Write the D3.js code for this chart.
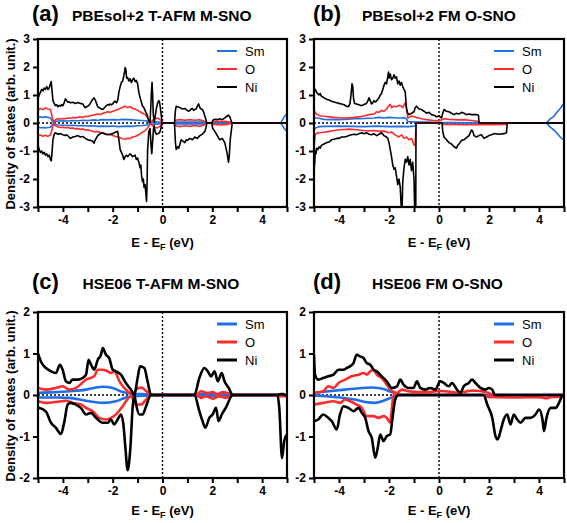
<!DOCTYPE html>
<html><head><meta charset="utf-8">
<script src="https://cdn.jsdelivr.net/npm/d3@7"></script>
<style>body{margin:0;background:#fff}svg{display:block}text{font-family:"Liberation Sans",Arial,Helvetica,sans-serif}</style>
</head><body>
<script>
// ---------- labels ----------
const seriesNames = ["Sm", "O", "Ni"];
const panelLetters = ["(a)", "(b)", "(c)", "(d)"];
const panelTitles = ["PBEsol+2 T-AFM M-SNO", "PBEsol+2 FM O-SNO", "HSE06 T-AFM M-SNO", "HSE06 FM O-SNO"];
const xTicks = [-5,-4,-3,-2,-1,0,1,2,3,4,5];
const xTickLabels = [-4,-2,0,2,4];
const yTicksTop = [-3,-2,-1,0,1,2,3];
const yTicksBottom = [-2,-1,0,1,2];
const yLabel = "Density of states (arb. unit.)";

// ---------- (a) PBEsol+2 T-AFM M-SNO ----------
const aSmUp = [[-5,0],[-4.99,0.2],[-4.9,0.22],[-4.8,0.2],[-4.7,0.22],[-4.6,0.2],[-4.5,0.18],[-4.45,0.1],[-4.38,0.02],[-4.32,0.05],[-4.2,0.07],[-4.0,0.08],[-3.8,0.07],[-3.6,0.09],[-3.4,0.08],[-3.2,0.1],[-3.0,0.09],[-2.8,0.11],[-2.6,0.1],[-2.4,0.12],[-2.2,0.11],[-2.0,0.12],[-1.8,0.11],[-1.6,0.13],[-1.4,0.12],[-1.2,0.11],[-1.0,0.1],[-0.8,0.09],[-0.6,0.07],[-0.5,0.02],[-0.4,0.04],[-0.2,0.04],[-0.02,0],[0.5,0],[0.55,0.03],[1.7,0.03],[1.78,0],[2,0],[2.05,0.02],[2.75,0.02],[2.8,0],[4.76,0],[4.82,0.12],[4.88,0.2],[4.94,0.28],[5,0.32]];
const aSmDn = [[-5,0],[-4.99,-0.15],[-4.9,-0.17],[-4.8,-0.16],[-4.7,-0.18],[-4.6,-0.16],[-4.5,-0.15],[-4.45,-0.08],[-4.38,-0.02],[-4.32,-0.05],[-4.2,-0.07],[-4.0,-0.08],[-3.8,-0.09],[-3.6,-0.08],[-3.4,-0.1],[-3.2,-0.09],[-3.0,-0.11],[-2.8,-0.1],[-2.6,-0.12],[-2.4,-0.11],[-2.2,-0.12],[-2.0,-0.11],[-1.8,-0.13],[-1.6,-0.12],[-1.4,-0.11],[-1.2,-0.12],[-1.0,-0.1],[-0.8,-0.09],[-0.6,-0.07],[-0.5,-0.02],[-0.4,-0.04],[-0.2,-0.04],[-0.02,0],[0.5,0],[0.55,-0.03],[1.7,-0.03],[1.78,0],[2,0],[2.05,-0.02],[2.75,-0.02],[2.8,0],[4.76,0],[4.82,-0.1],[4.88,-0.18],[4.94,-0.25],[5,-0.3]];
const aOUp = [[-5,0],[-4.99,0.45],[-4.95,0.5],[-4.9,0.52],[-4.8,0.48],[-4.7,0.54],[-4.6,0.5],[-4.5,0.48],[-4.45,0.3],[-4.4,0.1],[-4.35,0.05],[-4.3,0.12],[-4.2,0.15],[-4.1,0.14],[-4.0,0.16],[-3.9,0.15],[-3.8,0.18],[-3.7,0.17],[-3.6,0.2],[-3.5,0.18],[-3.4,0.2],[-3.3,0.22],[-3.2,0.2],[-3.1,0.24],[-3.0,0.22],[-2.9,0.26],[-2.8,0.28],[-2.7,0.3],[-2.6,0.32],[-2.5,0.3],[-2.4,0.35],[-2.3,0.37],[-2.2,0.4],[-2.1,0.38],[-2.0,0.42],[-1.9,0.45],[-1.8,0.48],[-1.7,0.52],[-1.6,0.56],[-1.5,0.6],[-1.4,0.55],[-1.3,0.58],[-1.2,0.52],[-1.1,0.5],[-1.0,0.45],[-0.9,0.4],[-0.8,0.35],[-0.7,0.3],[-0.6,0.2],[-0.5,0.05],[-0.45,0.02],[-0.4,0.1],[-0.3,0.15],[-0.2,0.18],[-0.1,0.12],[-0.02,0],[0.48,0],[0.52,0.1],[0.7,0.12],[0.9,0.1],[1.1,0.12],[1.3,0.1],[1.5,0.12],[1.7,0.05],[1.78,0],[1.98,0],[2.05,0.05],[2.3,0.06],[2.6,0.05],[2.8,0],[5,0]];
const aODn = [[-5,0],[-4.99,-0.42],[-4.95,-0.45],[-4.9,-0.43],[-4.8,-0.47],[-4.7,-0.44],[-4.6,-0.48],[-4.5,-0.42],[-4.45,-0.28],[-4.4,-0.1],[-4.35,-0.04],[-4.3,-0.1],[-4.2,-0.14],[-4.1,-0.16],[-4.0,-0.15],[-3.9,-0.17],[-3.8,-0.16],[-3.7,-0.19],[-3.6,-0.18],[-3.5,-0.21],[-3.4,-0.2],[-3.3,-0.23],[-3.2,-0.21],[-3.1,-0.25],[-3.0,-0.24],[-2.9,-0.27],[-2.8,-0.3],[-2.7,-0.32],[-2.6,-0.3],[-2.5,-0.34],[-2.4,-0.37],[-2.3,-0.38],[-2.2,-0.4],[-2.1,-0.42],[-2.0,-0.44],[-1.9,-0.48],[-1.8,-0.5],[-1.7,-0.53],[-1.6,-0.56],[-1.5,-0.58],[-1.4,-0.54],[-1.3,-0.56],[-1.2,-0.5],[-1.1,-0.48],[-1.0,-0.44],[-0.9,-0.38],[-0.8,-0.33],[-0.7,-0.27],[-0.6,-0.18],[-0.5,-0.05],[-0.45,-0.02],[-0.4,-0.1],[-0.3,-0.16],[-0.2,-0.17],[-0.1,-0.12],[-0.02,0],[0.48,0],[0.52,-0.1],[0.7,-0.13],[0.9,-0.1],[1.1,-0.12],[1.3,-0.09],[1.5,-0.12],[1.7,-0.05],[1.78,0],[1.98,0],[2.05,-0.05],[2.3,-0.07],[2.6,-0.05],[2.8,0],[5,0]];
const aNiUp = [[-5,0],[-4.99,0.9],[-4.95,1.0],[-4.9,1.1],[-4.85,1.2],[-4.8,1.15],[-4.75,1.25],[-4.7,1.2],[-4.65,1.3],[-4.6,1.2],[-4.55,1.25],[-4.5,1.4],[-4.47,1.48],[-4.44,1.2],[-4.4,0.8],[-4.35,0.7],[-4.3,0.62],[-4.25,0.65],[-4.2,0.58],[-4.15,0.63],[-4.1,0.6],[-4.05,0.66],[-4.0,0.62],[-3.95,0.72],[-3.9,0.86],[-3.85,0.8],[-3.8,0.74],[-3.75,0.76],[-3.7,0.72],[-3.6,0.74],[-3.5,0.7],[-3.4,0.73],[-3.3,0.7],[-3.2,0.68],[-3.15,0.6],[-3.1,0.55],[-3.05,0.58],[-3.0,0.6],[-2.95,0.64],[-2.9,0.7],[-2.85,0.78],[-2.8,0.85],[-2.75,0.9],[-2.7,0.82],[-2.65,0.7],[-2.6,0.58],[-2.55,0.55],[-2.5,0.52],[-2.45,0.5],[-2.4,0.48],[-2.35,0.53],[-2.3,0.58],[-2.25,0.62],[-2.2,0.66],[-2.15,0.64],[-2.1,0.68],[-2.05,0.65],[-2.0,0.68],[-1.95,0.75],[-1.9,0.78],[-1.85,0.72],[-1.8,0.8],[-1.75,1.1],[-1.7,1.3],[-1.65,1.45],[-1.6,1.5],[-1.55,1.7],[-1.52,1.85],[-1.5,1.98],[-1.47,1.9],[-1.44,1.6],[-1.4,1.62],[-1.35,1.5],[-1.3,1.58],[-1.25,1.45],[-1.2,1.55],[-1.15,1.6],[-1.1,1.48],[-1.05,1.52],[-1.0,1.4],[-0.95,1.1],[-0.9,0.9],[-0.85,0.75],[-0.8,0.6],[-0.75,0.55],[-0.7,0.45],[-0.66,0.37],[-0.62,0.3],[-0.55,0.05],[-0.5,0.02],[-0.47,0.6],[-0.44,1.2],[-0.42,1.45],[-0.4,1.1],[-0.37,0.3],[-0.33,0.03],[-0.3,0.2],[-0.25,0.5],[-0.2,0.7],[-0.15,0.8],[-0.12,0.75],[-0.08,0.5],[-0.04,0.2],[-0.02,0],[0.48,0],[0.52,0.45],[0.55,0.6],[0.6,0.58],[0.7,0.55],[0.8,0.5],[0.9,0.52],[0.95,0.48],[1.0,0.45],[1.05,0.42],[1.1,0.45],[1.15,0.5],[1.2,0.52],[1.25,0.45],[1.3,0.48],[1.35,0.5],[1.4,0.6],[1.45,0.68],[1.5,0.55],[1.55,0.5],[1.6,0.48],[1.65,0.4],[1.7,0.25],[1.75,0.1],[1.78,0],[1.98,0],[2.02,0.1],[2.1,0.13],[2.2,0.12],[2.3,0.15],[2.4,0.12],[2.5,0.18],[2.6,0.25],[2.65,0.28],[2.7,0.22],[2.75,0.1],[2.79,0],[5,0]];
const aNiDn = [[-5,0],[-4.99,-0.82],[-4.95,-0.95],[-4.9,-1.05],[-4.85,-1.0],[-4.8,-1.1],[-4.75,-1.05],[-4.7,-1.15],[-4.65,-1.1],[-4.6,-1.2],[-4.55,-1.15],[-4.5,-1.3],[-4.47,-1.35],[-4.44,-1.1],[-4.4,-0.6],[-4.35,-0.4],[-4.3,-0.35],[-4.2,-0.4],[-4.1,-0.38],[-4.0,-0.42],[-3.9,-0.45],[-3.85,-0.42],[-3.75,-0.5],[-3.7,-0.55],[-3.6,-0.5],[-3.5,-0.48],[-3.4,-0.45],[-3.3,-0.5],[-3.2,-0.48],[-3.1,-0.55],[-3.0,-0.6],[-2.9,-0.62],[-2.8,-0.65],[-2.75,-0.72],[-2.7,-0.6],[-2.6,-0.45],[-2.5,-0.38],[-2.4,-0.35],[-2.3,-0.4],[-2.2,-0.42],[-2.1,-0.4],[-2.0,-0.38],[-1.9,-0.33],[-1.8,-0.3],[-1.75,-0.6],[-1.7,-0.95],[-1.65,-1.05],[-1.6,-1.15],[-1.55,-1.3],[-1.5,-1.2],[-1.45,-1.15],[-1.4,-1.2],[-1.3,-1.1],[-1.2,-1.2],[-1.1,-1.15],[-1.05,-1.3],[-1.0,-1.25],[-0.95,-1.4],[-0.9,-1.6],[-0.87,-1.5],[-0.84,-1.9],[-0.8,-2.1],[-0.77,-2.0],[-0.74,-2.3],[-0.7,-2.2],[-0.67,-2.5],[-0.64,-2.8],[-0.62,-2.2],[-0.6,-1.0],[-0.55,-0.3],[-0.5,-0.2],[-0.46,-0.8],[-0.43,-1.1],[-0.4,-0.7],[-0.36,-0.2],[-0.33,-0.1],[-0.3,-0.3],[-0.25,-0.4],[-0.18,-0.38],[-0.12,-0.35],[-0.08,-0.25],[-0.04,-0.1],[-0.02,0],[0.48,0],[0.52,-0.7],[0.55,-0.94],[0.6,-0.85],[0.65,-0.9],[0.7,-0.75],[0.75,-0.6],[0.82,-0.65],[0.9,-0.7],[0.95,-0.6],[1.0,-0.62],[1.1,-0.55],[1.2,-0.6],[1.3,-0.5],[1.4,-0.55],[1.5,-0.45],[1.6,-0.4],[1.7,-0.3],[1.75,-0.15],[1.78,0],[1.98,0],[2.02,-0.2],[2.1,-0.3],[2.2,-0.45],[2.3,-0.6],[2.4,-0.55],[2.5,-0.7],[2.55,-0.9],[2.6,-1.1],[2.65,-1.4],[2.68,-1.2],[2.72,-0.6],[2.76,-0.3],[2.8,0],[5,0]];

// ---------- (b) PBEsol+2 FM O-SNO ----------
const bSmUp = [[-5,0],[-4.99,0.19],[-4.8,0.17],[-4.6,0.13],[-4.4,0.12],[-4.2,0.13],[-4.0,0.12],[-3.8,0.13],[-3.6,0.14],[-3.4,0.15],[-3.2,0.15],[-3.0,0.16],[-2.8,0.17],[-2.6,0.18],[-2.4,0.2],[-2.2,0.18],[-2.0,0.2],[-1.8,0.19],[-1.6,0.18],[-1.4,0.19],[-1.3,0.15],[-1.25,0.05],[-1.0,0.04],[-0.5,0.03],[0,0.02],[0.5,0.02],[1.6,0.01],[1.62,0],[4.27,0],[4.35,0.05],[4.45,0.15],[4.55,0.2],[4.65,0.3],[4.75,0.42],[4.85,0.52],[4.95,0.65],[5,0.67]];
const bSmDn = [[-5,0],[-4.99,-0.2],[-4.8,-0.13],[-4.5,-0.12],[-4.0,-0.11],[-3.5,-0.12],[-3.0,-0.13],[-2.5,-0.11],[-2.0,-0.13],[-1.5,-0.12],[-1.2,-0.13],[-1.0,-0.11],[-0.93,-0.1],[-0.92,0],[4.27,0],[4.35,-0.05],[4.45,-0.15],[4.55,-0.22],[4.65,-0.3],[4.75,-0.4],[4.85,-0.5],[4.95,-0.58],[5,-0.57]];
const bOUp = [[-5,0],[-4.99,0.43],[-4.9,0.32],[-4.8,0.27],[-4.7,0.25],[-4.6,0.24],[-4.4,0.22],[-4.2,0.2],[-4.0,0.19],[-3.8,0.18],[-3.6,0.19],[-3.4,0.2],[-3.2,0.22],[-3.0,0.25],[-2.8,0.3],[-2.6,0.32],[-2.5,0.4],[-2.4,0.38],[-2.3,0.45],[-2.2,0.42],[-2.1,0.5],[-2.0,0.62],[-1.95,0.67],[-1.9,0.55],[-1.8,0.6],[-1.7,0.58],[-1.6,0.63],[-1.5,0.6],[-1.45,0.55],[-1.4,0.65],[-1.35,0.73],[-1.3,0.55],[-1.25,0.18],[-1.2,0.2],[-1.1,0.25],[-1.0,0.22],[-0.9,0.2],[-0.7,0.15],[-0.5,0.12],[-0.3,0.1],[-0.1,0.08],[0,0.07],[0.2,0.15],[0.4,0.13],[0.6,0.12],[0.8,0.11],[1.0,0.12],[1.2,0.1],[1.4,0.08],[1.6,0.05],[1.62,0],[5,0]];
const bODn = [[-5,0],[-4.99,-0.75],[-4.95,-0.42],[-4.9,-0.37],[-4.8,-0.35],[-4.6,-0.33],[-4.4,-0.3],[-4.2,-0.27],[-4.0,-0.24],[-3.8,-0.23],[-3.6,-0.22],[-3.4,-0.23],[-3.2,-0.25],[-3.0,-0.27],[-2.8,-0.28],[-2.6,-0.27],[-2.4,-0.3],[-2.2,-0.29],[-2.0,-0.35],[-1.9,-0.32],[-1.8,-0.4],[-1.7,-0.45],[-1.6,-0.5],[-1.5,-0.42],[-1.4,-0.55],[-1.3,-0.5],[-1.2,-0.6],[-1.1,-0.55],[-1.0,-0.78],[-0.95,-0.8],[-0.92,0],[0.1,0],[0.15,-0.05],[1.0,-0.06],[2.0,-0.06],[2.7,-0.05],[2.75,0],[5,0]];
const bNiUp = [[-5,0],[-4.99,1.15],[-4.95,1.2],[-4.9,1.1],[-4.85,1.05],[-4.8,1.0],[-4.75,1.05],[-4.7,0.95],[-4.6,0.9],[-4.5,0.85],[-4.4,0.82],[-4.3,0.78],[-4.2,0.75],[-4.1,0.72],[-4.0,0.7],[-3.9,0.68],[-3.8,0.65],[-3.7,0.6],[-3.62,0.58],[-3.56,0.7],[-3.52,1.0],[-3.48,1.4],[-3.45,1.3],[-3.42,0.9],[-3.38,0.7],[-3.3,0.68],[-3.2,0.65],[-3.1,0.62],[-3.0,0.66],[-2.9,0.7],[-2.85,0.78],[-2.8,0.9],[-2.75,0.8],[-2.7,0.68],[-2.65,0.72],[-2.6,0.8],[-2.55,0.75],[-2.5,0.78],[-2.45,0.85],[-2.4,0.9],[-2.35,1.0],[-2.3,1.05],[-2.25,1.2],[-2.2,1.35],[-2.15,1.45],[-2.1,1.4],[-2.05,1.65],[-2.02,1.82],[-2.0,1.6],[-1.95,1.75],[-1.9,1.55],[-1.85,1.6],[-1.8,1.72],[-1.75,1.6],[-1.7,1.65],[-1.65,1.4],[-1.6,1.5],[-1.55,1.35],[-1.5,1.45],[-1.45,1.3],[-1.4,1.2],[-1.35,1.1],[-1.3,0.5],[-1.25,0.35],[-1.2,0.3],[-1.1,0.35],[-1.0,0.4],[-0.95,0.55],[-0.9,0.6],[-0.85,0.55],[-0.8,0.5],[-0.7,0.48],[-0.6,0.42],[-0.5,0.35],[-0.4,0.38],[-0.3,0.3],[-0.2,0.28],[-0.1,0.22],[0,0.25],[0.1,0.18],[0.15,0.35],[0.2,0.48],[0.3,0.42],[0.4,0.4],[0.5,0.35],[0.6,0.3],[0.7,0.35],[0.8,0.32],[0.9,0.38],[1.0,0.35],[1.1,0.3],[1.2,0.32],[1.3,0.3],[1.4,0.3],[1.5,0.3],[1.58,0.28],[1.6,0],[5,0]];
const bNiDn = [[-5,0],[-4.99,-1.6],[-4.97,-1.4],[-4.95,-1.0],[-4.92,-1.1],[-4.9,-0.9],[-4.85,-0.95],[-4.8,-0.85],[-4.75,-0.9],[-4.7,-0.8],[-4.6,-0.75],[-4.5,-0.7],[-4.4,-0.68],[-4.3,-0.6],[-4.2,-0.58],[-4.1,-0.55],[-4.0,-0.55],[-3.9,-0.5],[-3.8,-0.5],[-3.7,-0.48],[-3.6,-0.45],[-3.5,-0.42],[-3.4,-0.4],[-3.3,-0.42],[-3.2,-0.38],[-3.1,-0.35],[-3.0,-0.38],[-2.9,-0.35],[-2.8,-0.4],[-2.7,-0.42],[-2.6,-0.38],[-2.5,-0.45],[-2.4,-0.4],[-2.3,-0.35],[-2.2,-0.45],[-2.1,-0.5],[-2.05,-0.55],[-2.0,-0.7],[-1.95,-0.95],[-1.9,-1.2],[-1.85,-1.5],[-1.8,-1.65],[-1.75,-1.6],[-1.7,-1.9],[-1.65,-2.2],[-1.6,-2.0],[-1.55,-2.3],[-1.5,-3.2],[-1.48,-3.2],[-1.45,-2.1],[-1.4,-1.6],[-1.35,-1.3],[-1.3,-1.4],[-1.25,-1.2],[-1.2,-1.5],[-1.15,-1.3],[-1.1,-1.7],[-1.05,-1.4],[-1.0,-2.0],[-0.97,-3.2],[-0.93,-3.2],[-0.92,0],[0.12,0],[0.15,-0.3],[0.2,-0.5],[0.3,-0.6],[0.4,-0.7],[0.5,-0.75],[0.6,-0.85],[0.7,-0.9],[0.75,-0.8],[0.8,-0.75],[0.9,-0.62],[1.0,-0.6],[1.1,-0.52],[1.2,-0.45],[1.3,-0.25],[1.35,-0.3],[1.4,-0.45],[1.5,-0.5],[1.6,-0.45],[1.7,-0.42],[1.8,-0.55],[1.9,-0.5],[2.0,-0.45],[2.1,-0.42],[2.2,-0.38],[2.4,-0.4],[2.6,-0.38],[2.7,-0.35],[2.73,0],[5,0]];

// ---------- (c) HSE06 T-AFM M-SNO ----------
const cSmUp = [[-5,0.05],[-4.28,0.07],[-3.74,0.09],[-3.07,0.13],[-2.67,0.18],[-2.4,0.2],[-2.0,0.17],[-1.6,0.07],[-1.2,0.03],[-0.8,0.02],[-0.46,0.01],[-0.44,0],[1.3,0],[1.4,0.02],[2.8,0.02],[2.85,0],[5,0]];
const cSmDn = [[-5,-0.06],[-4.28,-0.06],[-3.74,-0.07],[-3.07,-0.14],[-2.4,-0.19],[-1.87,-0.15],[-1.47,-0.06],[-1.0,-0.02],[-0.46,-0.01],[-0.44,0],[1.3,0],[1.4,-0.02],[2.8,-0.02],[2.85,0],[5,0]];
const cOUp = [[-5,0.17],[-4.68,0.13],[-4.28,0.17],[-4.01,0.21],[-3.74,0.13],[-3.47,0.17],[-3.07,0.37],[-2.74,0.45],[-2.6,0.61],[-2.4,0.61],[-2.2,0.57],[-2.07,0.53],[-1.93,0.57],[-1.73,0.33],[-1.47,0.13],[-1.2,0.02],[-1.06,0.13],[-0.86,0.18],[-0.66,0.1],[-0.46,0],[1.35,0],[1.55,0.09],[1.82,0.05],[2.01,0.07],[2.21,0.02],[2.41,0.07],[2.61,0.05],[2.82,0],[5,0]];
const cODn = [[-5,-0.15],[-4.68,-0.19],[-4.28,-0.17],[-3.88,-0.14],[-3.61,-0.19],[-3.27,-0.23],[-3.07,-0.31],[-2.8,-0.39],[-2.54,-0.55],[-2.27,-0.59],[-2.07,-0.55],[-1.87,-0.47],[-1.6,-0.27],[-1.27,-0.03],[-1.06,-0.23],[-0.86,-0.23],[-0.66,-0.11],[-0.46,0],[1.35,0],[1.55,-0.07],[1.75,-0.03],[2.01,-0.09],[2.28,-0.03],[2.55,-0.07],[2.82,0],[4.62,0],[4.7,-0.03],[5,-0.03]];
const cNiUp = [[-5,1.0],[-4.88,0.8],[-4.68,0.65],[-4.48,0.57],[-4.28,0.53],[-4.12,0.73],[-4.01,0.61],[-3.88,0.33],[-3.74,0.29],[-3.61,0.37],[-3.41,0.37],[-3.21,0.41],[-3.07,0.49],[-2.97,0.85],[-2.87,0.73],[-2.74,0.61],[-2.6,0.85],[-2.47,0.97],[-2.4,1.13],[-2.27,0.97],[-2.14,0.89],[-2.0,0.61],[-1.87,0.57],[-1.67,0.49],[-1.47,0.29],[-1.27,0.13],[-1.13,0],[-1.0,0.41],[-0.9,0.69],[-0.73,0.65],[-0.6,0.33],[-0.46,0],[1.28,0],[1.48,0.41],[1.68,0.65],[1.82,0.57],[1.95,0.45],[2.09,0.57],[2.22,0.33],[2.38,0.53],[2.49,0.33],[2.66,0.17],[2.82,0],[4.62,0],[4.75,0.02],[4.85,0.02],[4.92,0],[5,0]];
const cNiDn = [[-5,-0.3],[-4.68,-0.4],[-4.48,-0.67],[-4.28,-0.79],[-4.08,-0.94],[-3.95,-0.67],[-3.81,-0.23],[-3.68,-0.19],[-3.48,-0.23],[-3.28,-0.31],[-3.07,-0.47],[-2.87,-0.43],[-2.67,-0.55],[-2.4,-0.67],[-2.2,-0.67],[-2.07,-0.59],[-1.94,-0.71],[-1.8,-0.59],[-1.67,-0.47],[-1.57,-0.71],[-1.49,-1.27],[-1.4,-1.81],[-1.29,-1.27],[-1.2,-0.31],[-1.13,0],[-1.06,-0.23],[-0.93,-0.47],[-0.8,-0.47],[-0.66,-0.27],[-0.46,0],[1.28,0],[1.48,-0.39],[1.61,-0.63],[1.72,-0.79],[1.88,-0.55],[2.01,-0.47],[2.15,-0.31],[2.25,-0.63],[2.38,-0.47],[2.54,-0.31],[2.82,0],[4.62,0],[4.69,-0.31],[4.8,-1.52],[4.89,-1.11],[5,-0.95]];

// ---------- (d) HSE06 FM O-SNO ----------
const dSmUp = [[-5,0.05],[-4.43,0.09],[-3.76,0.13],[-3.09,0.17],[-2.69,0.18],[-2.42,0.17],[-2.15,0.13],[-1.89,0.07],[-1.62,0.02],[-1.5,0],[5,0]];
const dSmDn = [[-5,-0.01],[-4.5,-0.03],[-3.96,-0.06],[-3.36,-0.11],[-2.95,-0.17],[-2.55,-0.19],[-2.22,-0.14],[-1.89,-0.06],[-1.62,-0.01],[-1.5,0],[5,0]];
const dOUp = [[-5,0.05],[-4.63,0.09],[-4.43,0.21],[-4.22,0.17],[-4.02,0.29],[-3.75,0.37],[-3.49,0.45],[-3.22,0.49],[-3.02,0.53],[-2.89,0.49],[-2.75,0.57],[-2.62,0.61],[-2.49,0.49],[-2.29,0.41],[-2.09,0.25],[-1.89,0.1],[-1.68,0.05],[-1.48,0.13],[-1.22,0.09],[-0.82,0.07],[-0.42,0.07],[0.0,0.1],[0.26,0.09],[0.66,0.06],[1.06,0.08],[1.32,0.11],[1.72,0.09],[1.99,0.05],[2.19,0],[5,0]];
const dODn = [[-5,-0.23],[-4.63,-0.19],[-4.22,-0.15],[-3.96,-0.19],[-3.76,-0.11],[-3.56,-0.15],[-3.29,-0.23],[-3.09,-0.31],[-2.89,-0.51],[-2.62,-0.51],[-2.42,-0.55],[-2.22,-0.51],[-2.09,-0.55],[-1.95,-0.67],[-1.89,-0.35],[-1.82,0],[1.8,0],[2.0,-0.05],[3.0,-0.06],[4.0,-0.05],[4.3,-0.08],[4.5,-0.05],[5,-0.04]];
const dNiUp = [[-5,0.97],[-4.96,0.49],[-4.83,0.37],[-4.63,0.41],[-4.43,0.45],[-4.22,0.49],[-4.02,0.61],[-3.82,0.61],[-3.69,0.65],[-3.56,0.69],[-3.42,0.77],[-3.29,0.97],[-3.16,0.93],[-3.02,0.89],[-2.89,0.77],[-2.75,0.73],[-2.62,0.61],[-2.49,0.57],[-2.29,0.45],[-2.09,0.33],[-1.89,0.17],[-1.68,0.21],[-1.55,0.37],[-1.42,0.25],[-1.22,0.17],[-1.02,0.17],[-0.88,0.33],[-0.75,0.17],[-0.55,0.13],[-0.35,0.17],[-0.15,0.13],[0.05,0.33],[0.19,0.29],[0.39,0.21],[0.52,0.29],[0.72,0.13],[0.86,0.05],[0.99,0.21],[1.19,0.29],[1.32,0.37],[1.46,0.29],[1.66,0.17],[1.86,0.13],[1.99,0.17],[2.13,0.13],[2.23,0],[5,0]];
const dNiDn = [[-5,-0.63],[-4.83,-0.59],[-4.63,-0.47],[-4.43,-0.55],[-4.29,-0.63],[-4.09,-0.83],[-3.96,-0.47],[-3.82,-0.27],[-3.62,-0.31],[-3.42,-0.39],[-3.22,-0.31],[-3.09,-0.43],[-2.95,-0.55],[-2.82,-0.87],[-2.69,-1.03],[-2.55,-1.51],[-2.45,-1.27],[-2.35,-0.95],[-2.22,-1.11],[-2.09,-0.99],[-1.95,-0.95],[-1.86,-0.55],[-1.75,-0.11],[-1.62,0],[1.79,0],[1.93,-0.23],[2.13,-0.55],[2.26,-0.99],[2.35,-1.07],[2.46,-0.87],[2.59,-0.59],[2.73,-0.47],[2.86,-0.71],[2.99,-0.47],[3.13,-0.59],[3.26,-0.67],[3.46,-0.55],[3.66,-0.55],[3.86,-0.47],[4.0,-0.35],[4.14,-0.59],[4.2,-0.87],[4.3,-0.55],[4.47,-0.31],[4.67,-0.31],[4.8,-0.19],[4.96,0],[5,0]];

// ---------- layout / style ----------
const W = 567, H = 523;
const colors = {Sm: "#1f6fe6", O: "#ff2b2b", Ni: "#000000"};
const panels = [
  {letter: panelLetters[0], title: panelTitles[0], l: 38, r: 287, t: 39, b: 207, yDom: [-3,3], yTicks: yTicksTop,
   series: {Sm: [aSmUp, aSmDn], O: [aOUp, aODn], Ni: [aNiUp, aNiDn]}, lw: 1.6, leg: 2, smooth: false,
   letterX: 32, titleX: 72, textY: 20.5, showY: true, yLabY: 124, xLabY: 247},
  {letter: panelLetters[1], title: panelTitles[1], l: 314, r: 564, t: 39, b: 207, yDom: [-3,3], yTicks: yTicksTop,
   series: {Sm: [bSmUp, bSmDn], O: [bOUp, bODn], Ni: [bNiUp, bNiDn]}, lw: 1.6, leg: 2, smooth: false,
   letterX: 313, titleX: 362, textY: 20.5, showY: false, xLabY: 247},
  {letter: panelLetters[2], title: panelTitles[2], l: 38, r: 287, t: 312, b: 478, yDom: [-2,2], yTicks: yTicksBottom,
   series: {Sm: [cSmUp, cSmDn], O: [cOUp, cODn], Ni: [cNiUp, cNiDn]}, lw: 2.6, leg: 3, smooth: true,
   letterX: 32, titleX: 82.5, textY: 289, showY: true, yLabY: 396, xLabY: 515},
  {letter: panelLetters[3], title: panelTitles[3], l: 314, r: 564, t: 312, b: 478, yDom: [-2,2], yTicks: yTicksBottom,
   series: {Sm: [dSmUp, dSmDn], O: [dOUp, dODn], Ni: [dNiUp, dNiDn]}, lw: 2.6, leg: 3, smooth: true,
   letterX: 313, titleX: 372, textY: 289, showY: false, xLabY: 515}
];

const svg = d3.select("body").append("svg").attr("width", W).attr("height", H);

panels.forEach((p, i) => {
  const x = d3.scaleLinear().domain([-5, 5]).range([p.l, p.r]);
  const y = d3.scaleLinear().domain(p.yDom).range([p.b, p.t]);
  const g = svg.append("g");
  const clipId = "clip" + i;
  svg.append("clipPath").attr("id", clipId).append("rect")
    .attr("x", p.l).attr("y", p.t).attr("width", p.r - p.l).attr("height", p.b - p.t);

  const plot = g.append("g").attr("clip-path", `url(#${clipId})`);
  // dotted reference lines
  plot.append("line").attr("x1", x(-5)).attr("x2", x(5)).attr("y1", y(0)).attr("y2", y(0))
    .attr("stroke", "#000").attr("stroke-width", 1.4).attr("stroke-dasharray", "2,2");
  plot.append("line").attr("x1", x(0)).attr("x2", x(0)).attr("y1", p.t).attr("y2", p.b)
    .attr("stroke", "#000").attr("stroke-width", 1.4).attr("stroke-dasharray", "2,2");

  const line = d3.line().x(d => x(d[0])).y(d => y(d[1]))
    .curve(p.smooth ? d3.curveMonotoneX : d3.curveLinear);
  seriesNames.forEach(name => {
    p.series[name].forEach(arr => {
      plot.append("path").datum(arr).attr("d", line)
        .attr("fill", "none").attr("stroke", colors[name]).attr("stroke-width", p.lw)
        .attr("stroke-linejoin", "round");
    });
  });

  // frame
  g.append("rect").attr("x", p.l).attr("y", p.t).attr("width", p.r - p.l).attr("height", p.b - p.t)
    .attr("fill", "none").attr("stroke", "#000").attr("stroke-width", 2.2);

  // axes
  const xAxis = d3.axisBottom(x).tickValues(xTicks).tickSize(5).tickPadding(3)
    .tickFormat(d => xTickLabels.includes(d) ? String(d) : "");
  const yAxis = d3.axisLeft(y).tickValues(p.yTicks).tickSize(5).tickPadding(3)
    .tickFormat(d => String(d));
  const gx = g.append("g").attr("transform", `translate(0,${p.b})`).call(xAxis);
  const gy = g.append("g").attr("transform", `translate(${p.l},0)`).call(yAxis);
  [gx, gy].forEach(a => {
    a.select(".domain").remove();
    a.selectAll(".tick line").attr("stroke", "#000").attr("stroke-width", 2);
    a.selectAll(".tick text").attr("fill", "#000")
      .style("font-size", "12px").style("font-weight", "bold")
      .style("font-family", '"Liberation Sans", Arial, sans-serif');
  });

  // legend
  seriesNames.forEach((name, k) => {
    const ly = p.t + 12 + k * 18;
    g.append("line").attr("x1", p.r - 70).attr("x2", p.r - 50).attr("y1", ly).attr("y2", ly)
      .attr("stroke", colors[name]).attr("stroke-width", p.leg);
    g.append("text").attr("x", p.r - 42).attr("y", ly).attr("dy", "0.36em")
      .style("font-size", "13px").text(name);
  });

  // titles
  g.append("text").attr("x", p.letterX).attr("y", p.textY)
    .style("font-size", "22px").style("font-weight", "bold").text(p.letter);
  g.append("text").attr("x", p.titleX).attr("y", p.textY)
    .style("font-size", "15.5px").style("font-weight", "bold").text(p.title);

  // x label
  const xl = g.append("text").attr("x", (p.l + p.r) / 2).attr("y", p.xLabY)
    .attr("text-anchor", "middle").style("font-size", "13px").style("font-weight", "bold");
  xl.append("tspan").text("E - E");
  xl.append("tspan").attr("dy", 3).style("font-size", "9px").text("F");
  xl.append("tspan").attr("dy", -3).text(" (eV)");

  // y label
  if (p.showY) {
    g.append("text").attr("transform", `translate(15,${p.yLabY}) rotate(-90)`)
      .attr("text-anchor", "middle").style("font-size", "13px").style("font-weight", "bold")
      .text(yLabel);
  }
});
</script>
</body></html>
